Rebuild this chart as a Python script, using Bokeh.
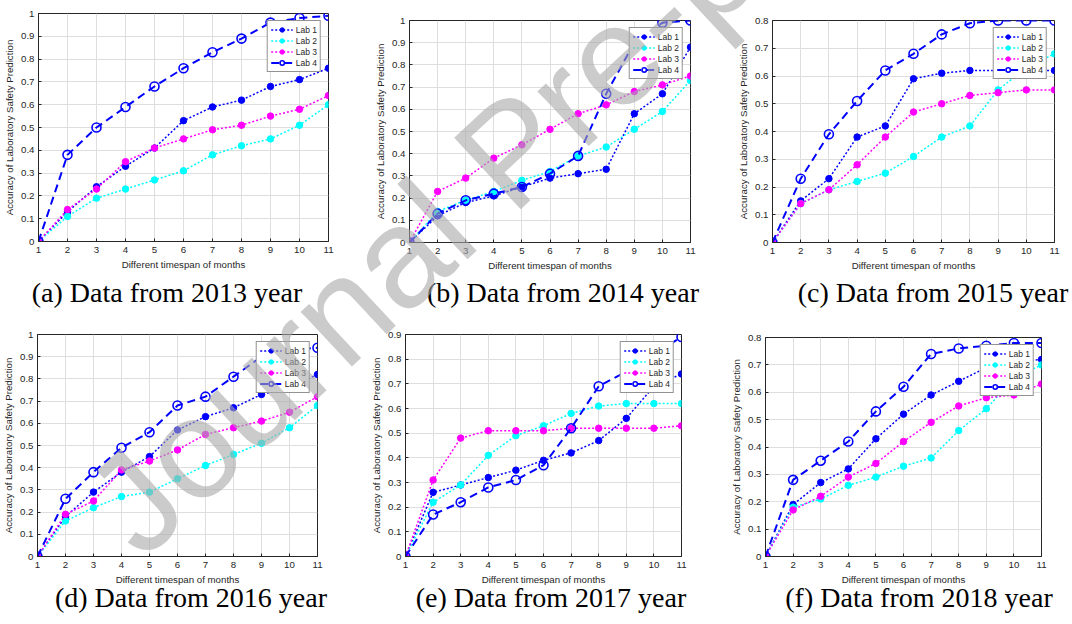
import math
from bokeh.plotting import figure
from bokeh.models import Range1d, FixedTicker, Legend, LegendItem, Div
from bokeh.layouts import column, row
from bokeh.embed import file_html
from bokeh.resources import INLINE

# ---------------- data ----------------
months = [1, 2, 3, 4, 5, 6, 7, 8, 9, 10, 11]
series_names = ["Lab 1", "Lab 2", "Lab 3", "Lab 4"]

y2013_lab1 = [0, 0.13, 0.24, 0.33, 0.41, 0.53, 0.59, 0.62, 0.68, 0.71, 0.76]
y2013_lab2 = [0, 0.11, 0.19, 0.23, 0.27, 0.31, 0.38, 0.42, 0.45, 0.51, 0.60]
y2013_lab3 = [0, 0.14, 0.23, 0.35, 0.41, 0.45, 0.49, 0.51, 0.55, 0.58, 0.64]
y2013_lab4 = [0, 0.38, 0.50, 0.59, 0.68, 0.76, 0.83, 0.89, 0.96, 0.98, 0.99]

y2014_lab1 = [0, 0.12, 0.18, 0.21, 0.25, 0.29, 0.31, 0.33, 0.58, 0.67, 0.88]
y2014_lab2 = [0, 0.14, 0.19, 0.23, 0.28, 0.32, 0.39, 0.43, 0.51, 0.59, 0.73]
y2014_lab3 = [0, 0.23, 0.29, 0.38, 0.44, 0.51, 0.58, 0.62, 0.68, 0.71, 0.75]
y2014_lab4 = [0, 0.13, 0.19, 0.22, 0.25, 0.31, 0.39, 0.67, 0.90, 0.99, 1.00]

y2015_lab1 = [0, 0.15, 0.23, 0.38, 0.42, 0.59, 0.61, 0.62, 0.62, 0.62, 0.62]
y2015_lab2 = [0, 0.14, 0.19, 0.22, 0.25, 0.31, 0.38, 0.42, 0.55, 0.63, 0.68]
y2015_lab3 = [0, 0.14, 0.19, 0.28, 0.38, 0.47, 0.50, 0.53, 0.54, 0.55, 0.55]
y2015_lab4 = [0, 0.23, 0.39, 0.51, 0.62, 0.68, 0.75, 0.79, 0.80, 0.80, 0.80]

y2016_lab1 = [0, 0.18, 0.29, 0.38, 0.45, 0.57, 0.63, 0.67, 0.73, 0.76, 0.82]
y2016_lab2 = [0, 0.16, 0.22, 0.27, 0.29, 0.35, 0.41, 0.46, 0.51, 0.58, 0.68]
y2016_lab3 = [0, 0.19, 0.25, 0.39, 0.43, 0.48, 0.55, 0.58, 0.61, 0.65, 0.72]
y2016_lab4 = [0, 0.26, 0.38, 0.49, 0.56, 0.68, 0.72, 0.81, 0.90, 0.93, 0.94]

y2017_lab1 = [0, 0.26, 0.29, 0.32, 0.35, 0.39, 0.42, 0.47, 0.56, 0.69, 0.74]
y2017_lab2 = [0, 0.22, 0.29, 0.41, 0.49, 0.53, 0.58, 0.61, 0.62, 0.62, 0.62]
y2017_lab3 = [0, 0.31, 0.48, 0.51, 0.51, 0.51, 0.52, 0.52, 0.52, 0.52, 0.53]
y2017_lab4 = [0, 0.17, 0.22, 0.28, 0.31, 0.37, 0.52, 0.69, 0.75, 0.82, 0.89]

y2018_lab1 = [0, 0.19, 0.27, 0.32, 0.43, 0.52, 0.59, 0.64, 0.69, 0.71, 0.72]
y2018_lab2 = [0, 0.18, 0.21, 0.26, 0.29, 0.33, 0.36, 0.46, 0.54, 0.65, 0.70]
y2018_lab3 = [0, 0.17, 0.22, 0.29, 0.34, 0.42, 0.49, 0.55, 0.58, 0.59, 0.63]
y2018_lab4 = [0, 0.28, 0.35, 0.42, 0.53, 0.62, 0.74, 0.76, 0.77, 0.78, 0.78]

captions = ["(a) Data from 2013 year", "(b) Data from 2014 year", "(c) Data from 2015 year",
            "(d) Data from 2016 year", "(e) Data from 2017 year", "(f) Data from 2018 year"]
y_max = [1.0, 1.0, 0.8, 1.0, 0.9, 0.8]
x_title = "Different timespan of months"
y_title = "Accuracy of Laboratory Safety Prediction"
watermark_text = "Journal Pre-proof"

panels_data = [
    [y2013_lab1, y2013_lab2, y2013_lab3, y2013_lab4],
    [y2014_lab1, y2014_lab2, y2014_lab3, y2014_lab4],
    [y2015_lab1, y2015_lab2, y2015_lab3, y2015_lab4],
    [y2016_lab1, y2016_lab2, y2016_lab3, y2016_lab4],
    [y2017_lab1, y2017_lab2, y2017_lab3, y2017_lab4],
    [y2018_lab1, y2018_lab2, y2018_lab3, y2018_lab4],
]

ROW_TOP = [0, 310]
ROW_H = 310
CAP_BASE = [302, 607]
COL_X0 = [0, 368, 728]
# (width, border_top, frame_height, border_left, border_right, caption_center_x)
layout_specs = [
    (368, 13, 228, 38, 40, 167),
    (360, 20, 222, 41, 38, 563),
    (344, 20, 222, 44, 18, 933),
    (368, 24, 222, 36, 51, 191),
    (360, 24, 222, 31, 47, 551),
    (344, 27, 219, 33, 31, 919),
]
BORDER_BOTTOM = 32
CAP_SIZE = 28

colors = ["#0000ff", "#00ffff", "#ff00ff", "#0000ff"]
INK = "#262626"
FONT = "Liberation Sans"

cols = []
for i in range(6):
    w, bt, fh, bl, br, cap_cx = layout_specs[i]
    r, c = divmod(i, 3)
    h = bt + fh + BORDER_BOTTOM
    ymax = y_max[i]
    p = figure(width=w, height=h, x_range=Range1d(1, 11), y_range=Range1d(0, ymax),
               output_backend="svg", toolbar_location=None,
               min_border_left=bl, min_border_right=br, min_border_top=bt,
               min_border_bottom=BORDER_BOTTOM)
    p.background_fill_color = "white"
    p.border_fill_color = "white"
    p.outline_line_color = INK
    p.outline_line_width = 1

    yticks = [round(k * 0.1, 1) for k in range(int(round(ymax * 10)) + 1)]
    p.xaxis.ticker = FixedTicker(ticks=months)
    p.yaxis.ticker = FixedTicker(ticks=yticks)
    p.yaxis.major_label_overrides = {t: f"{t:g}" for t in yticks}

    for ax in (p.xaxis[0], p.yaxis[0]):
        ax.axis_line_color = INK
        ax.major_tick_line_color = INK
        ax.major_tick_in = 3
        ax.major_tick_out = 0
        ax.minor_tick_line_color = None
        ax.major_label_text_font = FONT
        ax.major_label_text_font_size = "9.7px"
        ax.major_label_text_color = INK
        ax.axis_label_text_font = FONT
        ax.axis_label_text_font_size = "9.7px"
        ax.axis_label_text_font_style = "normal"
        ax.axis_label_text_color = INK
    p.xaxis.major_label_standoff = 5
    p.xaxis.axis_label_standoff = 3
    p.yaxis.major_label_standoff = 4
    p.yaxis.axis_label_standoff = 3
    p.xaxis.axis_label = x_title
    p.yaxis.axis_label = y_title

    p.grid.grid_line_color = "#dedede"
    p.grid.grid_line_width = 1
    p.xgrid.ticker = FixedTicker(ticks=months)
    p.ygrid.ticker = FixedTicker(ticks=yticks)

    items = []
    for k in range(4):
        vals = panels_data[i][k]
        if k < 3:
            ln = p.line(months, vals, line_color=colors[k], line_width=1.5, line_dash="2 2")
            mk = p.scatter(months, vals, size=6.5, marker="circle", fill_color=colors[k],
                           line_color=colors[k], line_width=1)
        else:
            ln = p.line(months, vals, line_color=colors[k], line_width=2, line_dash="8 5")
            mk = p.scatter(months, vals, size=9, marker="circle", fill_color=None,
                           line_color=colors[k], line_width=1.6)
        items.append(LegendItem(label=series_names[k], renderers=[ln, mk]))

    legend = Legend(items=items, location="top_right")
    legend.margin = 7
    legend.padding = 3
    legend.spacing = 0
    legend.glyph_width = 22
    legend.glyph_height = 11
    legend.label_height = 11
    legend.label_width = 18
    legend.label_standoff = 3
    legend.label_text_font = FONT
    legend.label_text_font_size = "8.5px"
    legend.label_text_color = INK
    legend.border_line_color = INK
    legend.border_line_width = 1
    legend.background_fill_color = "white"
    legend.background_fill_alpha = 1
    p.add_layout(legend)

    # caption underneath the panel
    div_top = ROW_TOP[r] + h
    div_h = ROW_H - h
    dy = (CAP_BASE[r] - div_top) - 0.8375 * CAP_SIZE
    dx = cap_cx - (COL_X0[c] + w / 2)
    cap_html = (
        f'<div style="position:relative; left:{dx:.1f}px; top:{dy:.1f}px; width:{w}px; '
        f"text-align:center; font-family:'Liberation Serif'; font-size:{CAP_SIZE}px; "
        f'line-height:{CAP_SIZE}px; white-space:nowrap; color:#000000;">{captions[i]}</div>'
    )
    cap = Div(text=cap_html, width=w, height=div_h, margin=0, styles={"overflow": "visible"})
    cols.append(column(p, cap, spacing=0))

# watermark overlay (baseline start in picture px, rotation)
WM_X, WM_Y, WM_ANGLE, WM_SIZE = 143, 562, 43, 142
asc = 0.8465 * WM_SIZE
box_left = WM_X - asc * math.sin(math.radians(WM_ANGLE))
box_top = WM_Y - asc * math.cos(math.radians(WM_ANGLE))
wm_html = (
    f'<div style="position:absolute; left:{box_left:.1f}px; top:{box_top:.1f}px; '
    f'transform-origin:0 0; transform:rotate(-{WM_ANGLE}deg); '
    f"font-family:'{FONT}'; font-size:{WM_SIZE}px; line-height:1; white-space:nowrap; "
    f'color:rgba(168,168,168,0.6); pointer-events:none;">{watermark_text}</div>'
)
wm = Div(text=wm_html, width=1000, height=600, margin=0,
         styles={"position": "absolute", "left": "0px", "top": "0px", "z-index": "10",
                 "pointer-events": "none", "overflow": "visible"})

layout = column(row(cols[0], cols[1], cols[2], spacing=0),
                row(cols[3], cols[4], cols[5], spacing=0), wm, spacing=0)
open("out.html", "w").write(file_html(layout, INLINE))
